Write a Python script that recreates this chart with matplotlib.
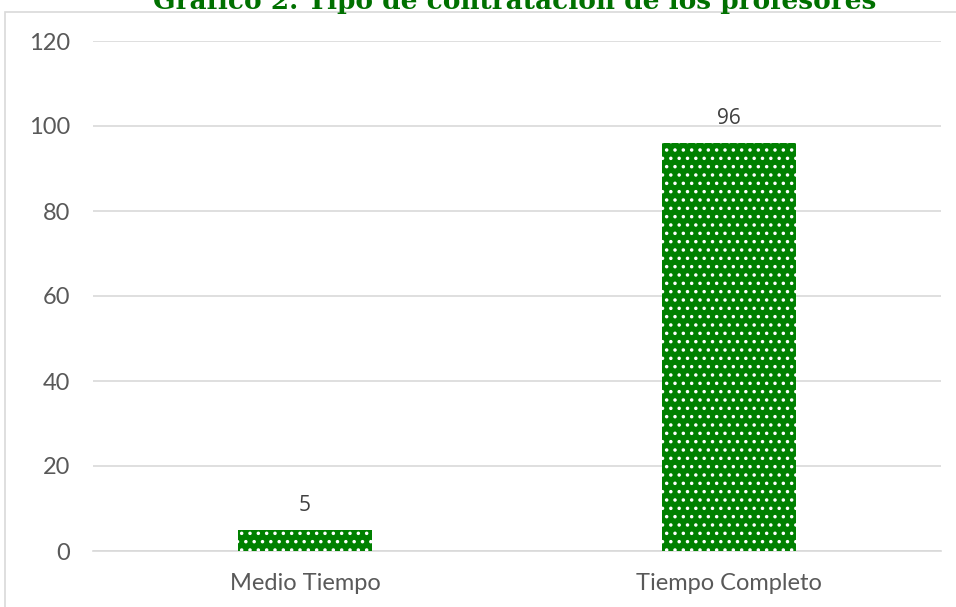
import matplotlib
matplotlib.use("Agg")
import matplotlib.pyplot as plt
from matplotlib.patches import Rectangle

# Datos
categorias = ["Medio Tiempo", "Tiempo Completo"]
valores = [5, 96]
titulo = "Gráfico 2. Tipo de contratación de los profesores"
y_ticks = [0, 20, 40, 60, 80, 100, 120]

verde = "#008000"
gris_rejilla = "#d9d9d9"

plt.rcParams["hatch.linewidth"] = 1.3

fig = plt.figure(figsize=(9.56, 6.07), dpi=100)
ax = fig.add_axes([93 / 956, 1 - 551 / 607, 848 / 956, 510 / 607])

# Marco del gráfico (recortado por el borde de la imagen)
marco = Rectangle((5 / 956, -0.2), 1.2, 0.2 + (607 - 12) / 607,
                  transform=fig.transFigure, fill=False,
                  edgecolor=gris_rejilla, linewidth=1.2, clip_on=False, zorder=0)
fig.add_artist(marco)

x = range(len(categorias))
barras = ax.bar(x, valores, width=0.314, color=verde, edgecolor="white",
                linewidth=0, hatch="..", zorder=3)

for xi, v in zip(x, valores):
    ax.text(xi, v + 3.2, str(v), ha="center", va="bottom",
            fontsize=15, color="#404040", family="Open Sans")

ax.set_xlim(-0.5, 1.5)
ax.set_ylim(0, 120)
ax.set_yticks(y_ticks)
ax.set_xticks(list(x))
ax.set_xticklabels(categorias)
ax.tick_params(axis="both", length=0, labelsize=17, labelcolor="#595959")
ax.tick_params(axis="x", pad=15.5)
ax.tick_params(axis="y", pad=16.5)
for lab in ax.get_xticklabels() + ax.get_yticklabels():
    lab.set_family("Lato")

ax.grid(axis="y", color=gris_rejilla, linewidth=1.2, zorder=0)
for lado in ["top", "right", "left"]:
    ax.spines[lado].set_visible(False)
ax.spines["bottom"].set_color(gris_rejilla)
ax.spines["bottom"].set_linewidth(1.2)

fig.text(515 / 956, 1 - 9 / 607, titulo, ha="center", va="baseline",
         fontsize=19, fontweight="bold", color="#007000", family="DejaVu Serif")

fig.savefig("out.png", dpi=100)
